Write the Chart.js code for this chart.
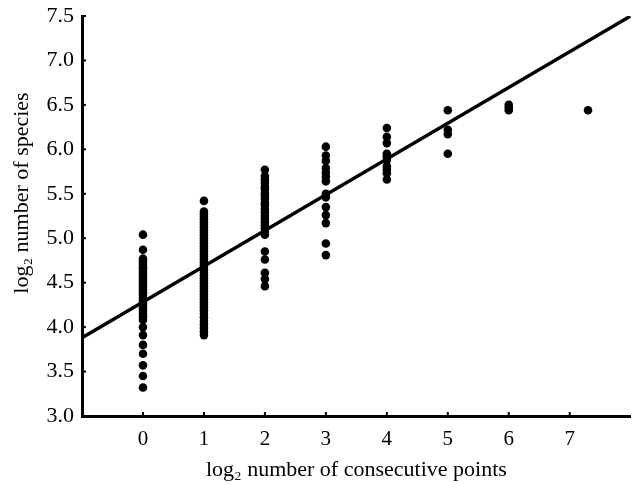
<!DOCTYPE html>
<html>
<head>
<meta charset="utf-8">
<script src="https://cdn.jsdelivr.net/npm/chart.js@4"></script>
<style>
  html, body { margin: 0; padding: 0; background: #fff; }
  #wrap { width: 635px; height: 485px; }
</style>
</head>
<body>
<div id="wrap"><canvas id="speciesChart" width="635" height="485"></canvas></div>
<script>
// log2 number of consecutive points (column positions)
const xColumns = [0, 1, 2, 3, 4, 5, 6, 7.3];

// log2 number of species, one list per column
const col0 = [5.04, 4.87, 4.77, 4.74, 4.71, 4.68, 4.66, 4.63, 4.6, 4.57, 4.54, 4.51, 4.48, 4.45, 4.42,
              4.39, 4.36, 4.33, 4.3, 4.27, 4.24, 4.21, 4.18, 4.15, 4.12, 4.08, 4.0, 3.91, 3.8, 3.7,
              3.57, 3.45, 3.32];
const col1 = [5.42, 5.3, 5.27, 5.24, 5.21, 5.18, 5.15, 5.12, 5.09, 5.06, 5.03, 5.0, 4.97, 4.94, 4.91,
              4.88, 4.85, 4.82, 4.79, 4.76, 4.73, 4.7, 4.67, 4.64, 4.61, 4.58, 4.55, 4.52, 4.49, 4.46,
              4.43, 4.4, 4.37, 4.34, 4.31, 4.28, 4.25, 4.22, 4.19, 4.15, 4.11, 4.07, 4.03, 3.99, 3.95,
              3.91];
const col2 = [5.77, 5.7, 5.66, 5.62, 5.58, 5.55, 5.51, 5.48, 5.44, 5.4, 5.37, 5.33, 5.29, 5.25, 5.22,
              5.18, 5.14, 5.11, 5.07, 5.04, 4.85, 4.76, 4.61, 4.54, 4.46];
const col3 = [6.03, 5.93, 5.87, 5.79, 5.74, 5.69, 5.64, 5.5, 5.46, 5.35, 5.26, 5.17, 4.94, 4.81];
const col4 = [6.24, 6.14, 6.07, 5.95, 5.92, 5.88, 5.81, 5.77, 5.73, 5.66];
const col5 = [6.44, 6.22, 6.17, 5.95];
const col6 = [6.5, 6.47, 6.44];
const col7 = [6.44];
const columns = [col0, col1, col2, col3, col4, col5, col6, col7];

// fitted regression line end points
const fitX = [-1, 8];
const fitY = [3.88, 7.5];

// axis ticks
const xTicks = [0, 1, 2, 3, 4, 5, 6, 7];
const yTicks = [3.0, 3.5, 4.0, 4.5, 5.0, 5.5, 6.0, 6.5, 7.0, 7.5];

const FONT = '"Liberation Serif", "Times New Roman", serif';
const yTitle = 'log\u2082 number of species';

// build scatter points from the column lists
const scatterPoints = [];
columns.forEach(function (col, i) {
    col.forEach(function (v) {
        scatterPoints.push({ x: xColumns[i], y: v });
    });
});

const fitPoints = fitX.map(function (x, i) {
    return { x: x, y: fitY[i] };
});

// little inward tick marks on both axes + the y title (sits a bit above centre in the original)
const axisExtras = {
    id: 'axisExtras',
    afterDraw(chart) {
        const ctx = chart.ctx;
        const xs = chart.scales.x;
        const ys = chart.scales.y;
        const area = chart.chartArea;
        ctx.save();
        ctx.fillStyle = '#000';
        xTicks.forEach(function (t) {
            const px = xs.getPixelForValue(t);
            ctx.fillRect(px - 1, area.bottom - 4, 2, 4);
        });
        yTicks.forEach(function (t) {
            const py = ys.getPixelForValue(t);
            ctx.fillRect(area.left, py - 1, 4, 2);
        });
        ctx.translate(22, 193);
        ctx.rotate(-Math.PI / 2);
        ctx.font = '22px ' + FONT;
        ctx.textAlign = 'center';
        ctx.textBaseline = 'middle';
        ctx.fillText(yTitle, 0, 0);
        ctx.restore();
    }
};

function initChart() {
    const ctx = document.getElementById('speciesChart').getContext('2d');
    new Chart(ctx, {
        type: 'scatter',
        data: {
            datasets: [
                {
                    label: 'fit',
                    type: 'line',
                    data: fitPoints,
                    borderColor: '#000',
                    borderWidth: 3.5,
                    pointRadius: 0,
                    fill: false,
                    order: 1
                },
                {
                    label: 'species',
                    data: scatterPoints,
                    backgroundColor: '#000',
                    borderColor: '#000',
                    borderWidth: 0,
                    pointRadius: 4.3,
                    order: 2
                }
            ]
        },
        options: {
            responsive: false,
            animation: false,
            layout: { padding: { top: 16, right: 0, left: 0, bottom: 0 } },
            plugins: {
                legend: { display: false },
                tooltip: { enabled: false }
            },
            scales: {
                x: {
                    type: 'linear',
                    min: -1,
                    max: 8,
                    afterBuildTicks(scale) {
                        scale.ticks = xTicks.map(function (v) { return { value: v }; });
                    },
                    afterFit(scale) { scale.height = 69; },
                    grid: { display: false, drawTicks: false },
                    border: { display: true, color: '#000', width: 3 },
                    ticks: {
                        color: '#000',
                        padding: 11,
                        font: { family: FONT, size: 21 }
                    },
                    title: {
                        display: true,
                        text: 'log\u2082 number of consecutive points',
                        color: '#000',
                        padding: { top: 4, bottom: 2 },
                        font: { family: FONT, size: 22 }
                    }
                },
                y: {
                    type: 'linear',
                    min: 3,
                    max: 7.5,
                    afterBuildTicks(scale) {
                        scale.ticks = yTicks.map(function (v) { return { value: v }; });
                    },
                    afterFit(scale) {
                        scale.width = 82;
                        scale.paddingTop = 0;
                        scale.paddingBottom = 0;
                    },
                    grid: { display: false, drawTicks: false },
                    border: { display: true, color: '#000', width: 3 },
                    ticks: {
                        color: '#000',
                        padding: 8,
                        font: { family: FONT, size: 22 },
                        callback: function (v) { return Number(v).toFixed(1); }
                    },
                    title: { display: false }
                }
            }
        },
        plugins: [axisExtras]
    });
}

document.addEventListener('DOMContentLoaded', function () {
    initChart();
});
</script>
</body>
</html>
